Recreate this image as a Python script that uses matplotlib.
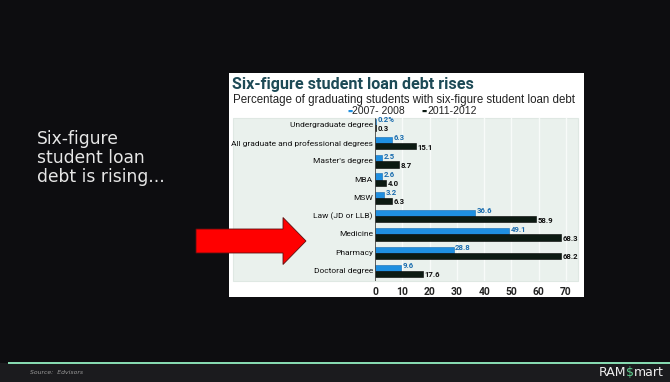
import matplotlib.pyplot as plt
from matplotlib.patches import Rectangle, FancyArrow

# data ------------------------------------------------
categories = ['Undergraduate degree', 'All graduate and professional degrees',
              "Master's degree", 'MBA', 'MSW', 'Law (JD or LLB)', 'Medicine',
              'Pharmacy', 'Doctoral degree']
y2008 = [0.2, 6.3, 2.5, 2.6, 3.2, 36.6, 49.1, 28.8, 9.6]
y2012 = [0.3, 15.1, 8.7, 4.0, 6.3, 58.9, 68.3, 68.2, 17.6]
lab2008 = ['0.2%', '6.3', '2.5', '2.6', '3.2', '36.6', '49.1', '28.8', '9.6']
lab2012 = ['0.3', '15.1', '8.7', '4.0', '6.3', '58.9', '68.3', '68.2', '17.6']
xticks = [0, 10, 20, 30, 40, 50, 60, 70]

W, H = 670, 382
BG = '#0d0d10'
BLUE = '#1f8fe0'
DARK = '#0c1a12'
NARROW = 'Roboto'

fig = plt.figure(figsize=(W/100, H/100), dpi=100, facecolor=BG)

def fx(px):
    return px / W

def fy(py):
    return 1 - py / H

# white card of the pasted chart
fig.patches.append(Rectangle((fx(229), fy(297)), fx(584-229), (297-73)/H,
                             transform=fig.transFigure, fc='white', ec='none', zorder=0))
# light plot background
fig.patches.append(Rectangle((fx(233), fy(281)), fx(578-233), (281-118)/H,
                             transform=fig.transFigure, fc='#eaf1ed', ec='#dfe8e3',
                             lw=0.8, zorder=0.5))

fig.text(fx(232), fy(84), 'Six-figure student loan debt rises', color='#1d4a56',
         fontsize=11.6, fontweight='bold', family=NARROW, va='center')
fig.text(fx(233), fy(100), 'Percentage of graduating students with six-figure student loan debt',
         color='#222222', fontsize=8.3, family='Liberation Sans', va='center')
fig.text(fx(347), fy(111), '\u25ac', color=BLUE, fontsize=4, va='center')
fig.text(fx(352), fy(111), '2007- 2008', color='#222222', fontsize=7.5,
         family='Liberation Sans', va='center')
fig.text(fx(421), fy(111), '\u25ac', color=DARK, fontsize=4, va='center')
fig.text(fx(427), fy(111), '2011-2012', color='#222222', fontsize=7.5,
         family='Liberation Sans', va='center')

# bar axes
ax = fig.add_axes([fx(375), fy(281), fx(578-375), (281-118)/H])
ax.set_zorder(3)
ax.set_facecolor('none')
ax.set_xlim(0, 74.4)
ax.set_ylim(8.55, -0.38)

pos = list(range(len(categories)))
h = 0.34
ax.barh([p - h/2 for p in pos], y2008, height=h, color=BLUE, edgecolor='#136ab0',
        lw=0.4, zorder=3)
ax.barh([p + h/2 for p in pos], y2012, height=h, color=DARK, edgecolor='#000000',
        lw=0.4, zorder=3)

for p, v, t in zip(pos, y2008, lab2008):
    ax.text(v + 0.6, p - h/2 - 0.12, t, color='#1a6cae', fontsize=5.6,
            fontweight='bold', family=NARROW, va='center', ha='left')
for p, v, t in zip(pos, y2012, lab2012):
    ax.text(v + 0.6, p + h/2 + 0.05, t, color='#111111', fontsize=5.6,
            fontweight='bold', family=NARROW, va='center', ha='left')
for p, c in zip(pos, categories):
    ax.text(-0.8, p, c, color='#111111', fontsize=6.0, family=NARROW,
            ha='right', va='center', clip_on=False)

for x in xticks[1:]:
    ax.axvline(x, color='#f8fbf9', lw=1.0, zorder=1)
ax.axvline(0, color='#444444', lw=0.6, zorder=4)

ax.set_xticks(xticks)
ax.set_yticks([])
ax.tick_params(axis='x', length=0, pad=4, labelsize=7.4, labelcolor='#222222')
for lbl in ax.get_xticklabels():
    lbl.set_fontweight('bold')
    lbl.set_family(NARROW)
for s in ax.spines.values():
    s.set_visible(False)

# red arrow, on top of everything
ax_over = fig.add_axes([0, 0, 1, 1], facecolor='none')
ax_over.set_zorder(5)
ax_over.axis('off')
ax_over.add_patch(FancyArrow(fx(196), fy(241), fx(283-196), 0, width=(253-229)/H,
                             head_width=(265-218)/H, head_length=fx(306-283),
                             length_includes_head=False, transform=fig.transFigure,
                             fc='#ff0000', ec='#5a1010', lw=0.6))

# left text
fig.text(fx(37), fy(158), 'Six-figure\nstudent loan\ndebt is rising...', color='#e6e6e6',
         fontsize=12.3, family='DejaVu Sans', va='center', ha='left', linespacing=1.1)

# footer
fig.patches.append(Rectangle((0, 0), 1, (H-363)/H, transform=fig.transFigure,
                             fc='#1b1b1e', ec='none', zorder=1))
fig.patches.append(Rectangle((fx(8), fy(364)), 1, 2/H, transform=fig.transFigure,
                             fc='#86d9b0', ec='none', zorder=2))
fig.text(fx(30), fy(373), 'Source:  Edvisors', color='#9a9a9a', fontsize=4.4,
         style='italic', va='center', zorder=3)

# RAM$mart logo, pieces placed one after another from the right
r = fig.canvas.get_renderer()
x_right = 664
for s, col in [('mart', '#eeeeee'), ('$', '#5fcf8f'), ('RAM', '#eeeeee')]:
    t = fig.text(fx(x_right), fy(373), s, color=col, fontsize=9, va='center',
                 ha='right', zorder=3, parse_math=False)
    x_right -= t.get_window_extent(r).width

plt.savefig('out.png', dpi=100, facecolor=BG)
